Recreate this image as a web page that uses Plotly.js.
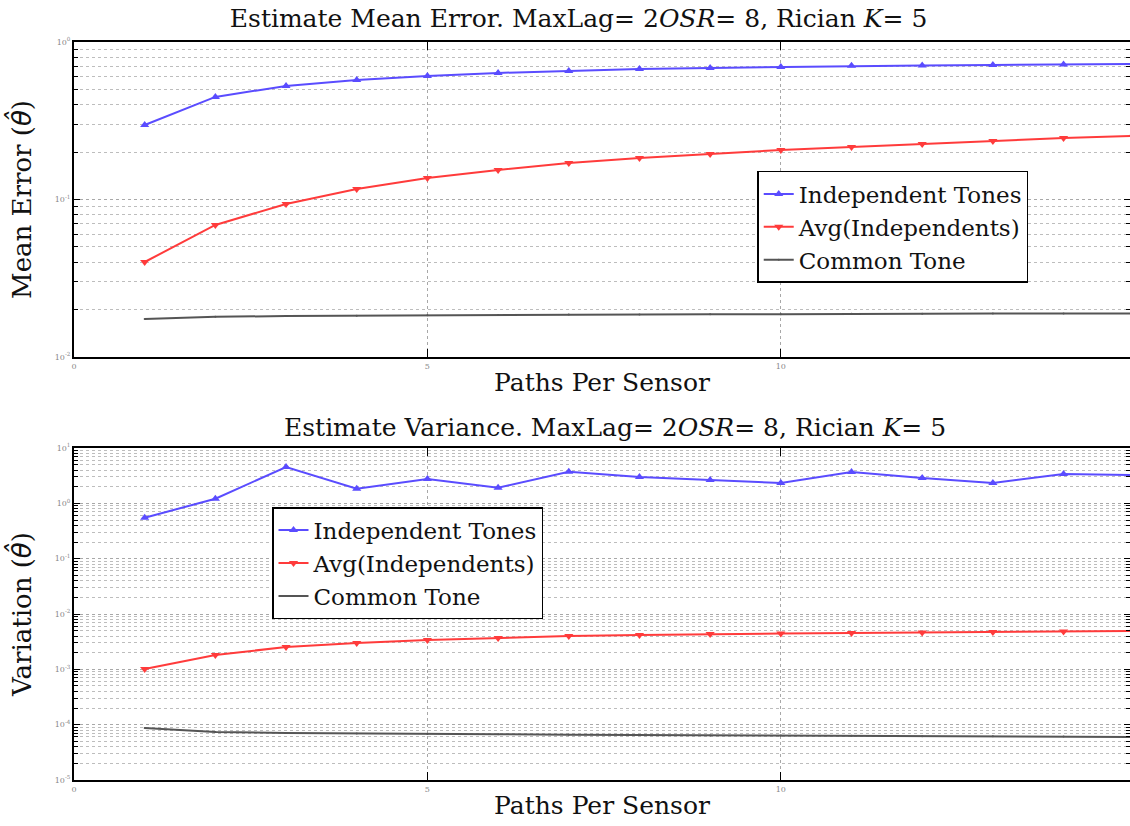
<!DOCTYPE html>
<html>
<head>
<meta charset="utf-8">
<script src="https://cdn.plot.ly/plotly-3.0.1.min.js"></script>
<style>html,body{margin:0;padding:0;background:#fff;}#chart{width:1130px;height:826px;}</style>
</head>
<body>
<div id="chart"></div>
<script>
// ---- data ----
const paths = [1,2,3,4,5,6,7,8,9,10,11,12,13,14,15];

const meanIndependent = [0.297,0.448,0.526,0.574,0.608,0.636,0.654,0.674,0.684,0.694,0.705,0.709,0.714,0.720,0.725];
const meanAvg         = [0.0401,0.0689,0.0936,0.1167,0.137,0.154,0.1706,0.1834,0.1945,0.206,0.2155,0.225,0.235,0.2457,0.253];
const meanCommon      = [0.0174,0.0180,0.0182,0.0183,0.0184,0.0185,0.0186,0.0186,0.0187,0.0187,0.0188,0.0188,0.0189,0.0189,0.0189];

const varIndependent  = [0.55,1.21,4.54,1.84,2.75,1.92,3.73,2.99,2.64,2.33,3.68,2.87,2.33,3.39,3.25];
const varAvg          = [0.00101,0.00182,0.00253,0.00299,0.00339,0.00368,0.0040,0.00417,0.00435,0.00444,0.00453,0.00463,0.00473,0.00483,0.00493];
const varCommon       = [8.7e-5,7.4e-5,7.1e-5,6.9e-5,6.8e-5,6.7e-5,6.6e-5,6.5e-5,6.4e-5,6.35e-5,6.3e-5,6.2e-5,6.15e-5,6.1e-5,6.0e-5];

const seriesNames = ['Independent Tones','Avg(Independents)','Common Tone'];
const xTickVals = [0,5,10,15];
const xTickText = ['0','5','10','15'];
const topTickVals = [0.01,0.1,1];
const topTickText = ['10<sup>-2</sup>','10<sup>-1</sup>','10<sup>0</sup>'];
const botTickVals = [1e-5,1e-4,1e-3,1e-2,1e-1,1,10];
const botTickText = ['10<sup>-5</sup>','10<sup>-4</sup>','10<sup>-3</sup>','10<sup>-2</sup>','10<sup>-1</sup>','10<sup>0</sup>','10<sup>1</sup>'];

const BLUE = '#5a4cff', RED = '#ff3b3b', GRAY = '#555555';
const serif = 'DejaVu Serif, Liberation Serif, serif';
const thetaHat = '<span style="font-family:\'DejaVu Sans\'"><i>θ̂</i></span>';

function tr(y, name, color, sym, xa, ya, leg, size) {
  return {
    x: paths, y: y, name: name, type: 'scatter', mode: 'lines+markers',
    xaxis: xa, yaxis: ya, legend: leg,
    line: {color: color, width: 2},
    marker: {color: color, symbol: sym, size: size}
  };
}

const data = [
  tr(meanIndependent, seriesNames[0], BLUE, 'triangle-up', 'x', 'y', 'legend', 8),
  tr(meanAvg, seriesNames[1], RED, 'triangle-down', 'x', 'y', 'legend', 8),
  tr(meanCommon, seriesNames[2], GRAY, 'circle', 'x', 'y', 'legend', 2),
  tr(varIndependent, seriesNames[0], BLUE, 'triangle-up', 'x2', 'y2', 'legend2', 8),
  tr(varAvg, seriesNames[1], RED, 'triangle-down', 'x2', 'y2', 'legend2', 8),
  tr(varCommon, seriesNames[2], GRAY, 'circle', 'x2', 'y2', 'legend2', 2)
];

const gridCommon = {gridcolor: '#a8a8a8', griddash: 'dot', gridwidth: 1};
function xax(anchor) {
  return Object.assign({
    anchor: anchor, domain: [0,1], range: [0, 14.94],
    tickvals: xTickVals, ticktext: xTickText,
    ticks: 'inside', ticklen: 8, tickcolor: '#000',
    showline: true, linecolor: '#000', linewidth: 2, mirror: 'ticks',
    showgrid: true, zeroline: false,
    tickfont: {family: serif, size: 8, color: '#888'},
    title: {text: 'Paths Per Sensor', font: {family: serif, size: 25, color: '#111'}, standoff: 4}
  }, gridCommon);
}
function yax(anchor, domain, range, tv, tt, title) {
  return Object.assign({
    anchor: anchor, domain: domain, type: 'log', range: range,
    tickvals: tv, ticktext: tt,
    ticks: 'inside', ticklen: 6, tickcolor: '#000',
    showline: true, linecolor: '#000', linewidth: 2, mirror: 'ticks',
    showgrid: true, zeroline: false,
    minor: {dtick: 'D1', ticks: 'inside', ticklen: 4, tickcolor: '#000', showgrid: true, gridcolor: '#bdbdbd', griddash: 'dot', gridwidth: 1},
    tickfont: {family: serif, size: 8, color: '#888'},
    title: {text: title, font: {family: serif, size: 26, color: '#111'}, standoff: 16}
  }, gridCommon);
}

const layout = {
  width: 1130, height: 826,
  margin: {l: 74, r: 0, t: 0, b: 0},
  paper_bgcolor: '#fff', plot_bgcolor: '#fff',
  font: {family: serif, color: '#111'},
  title: {text: 'Estimate Mean Error. MaxLag= 2<i>OSR</i>= 8, Rician <i>K</i>= 5',
          font: {family: serif, size: 25, color: '#111'},
          x: 0.512, xanchor: 'center', y: 0.978, yanchor: 'middle', yref: 'paper'},
  xaxis: xax('y'),
  yaxis: yax('x', [0.5678, 0.9492], [-2, 0], topTickVals, topTickText, 'Mean Error (' + thetaHat + ')'),
  xaxis2: xax('y2'),
  yaxis2: yax('x2', [0.0557, 0.4576], [-5, 1], botTickVals, botTickText, 'Variation (' + thetaHat + ')'),
  legend: {x: 0.647, y: 0.793, xanchor: 'left', yanchor: 'top', xref: 'paper', yref: 'paper',
           bgcolor: '#fff', bordercolor: '#000', borderwidth: 1.5,
           font: {family: serif, size: 23, color: '#111'}, tracegroupgap: 0, itemwidth: 30},
  legend2: {x: 0.1875, y: 0.386, xanchor: 'left', yanchor: 'top', xref: 'paper', yref: 'paper',
           bgcolor: '#fff', bordercolor: '#000', borderwidth: 1.5,
           font: {family: serif, size: 23, color: '#111'}, tracegroupgap: 0, itemwidth: 30},
  annotations: [{
    text: 'Estimate Variance. MaxLag= 2<i>OSR</i>= 8, Rician <i>K</i>= 5',
    xref: 'paper', yref: 'paper', x: 0.512, y: 0.482, xanchor: 'center', yanchor: 'middle',
    showarrow: false, font: {family: serif, size: 25, color: '#111'}
  }]
};

Plotly.newPlot('chart', data, layout, {displayModeBar: false, staticPlot: true});
</script>
</body>
</html>
